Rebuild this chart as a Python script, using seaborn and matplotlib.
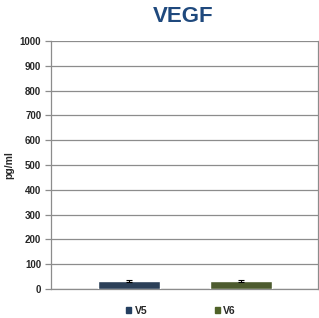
import matplotlib
matplotlib.use("Agg")
import matplotlib.pyplot as plt
import matplotlib.font_manager as fm
import seaborn as sns
import pandas as pd
from matplotlib.patches import Patch

categories = ["V5", "V6"]
values = [32, 32]
errors = [4, 4]
colors = ["#243F60", "#4F6228"]
yticks = [0, 100, 200, 300, 400, 500, 600, 700, 800, 900, 1000]

sns.set_style("white")
plt.rcParams['font.family'] = ['Liberation Sans', 'DejaVu Sans']

bold_path = None
for f in fm.findSystemFonts():
    if f.endswith("LiberationSans-Bold.ttf"):
        bold_path = f
        break
if bold_path:
    fm.fontManager.addfont(bold_path)
    def bp(size):
        return fm.FontProperties(fname=bold_path, size=size)
else:
    def bp(size):
        return fm.FontProperties(family="DejaVu Sans", weight="bold", size=size)

df = pd.DataFrame({"visit": categories, "value": values})

fig = plt.figure(figsize=(3.19, 3.18), dpi=100)
ax = fig.add_axes([51/319, 1-289/318, (318-51)/319, (289-41)/318])

sns.barplot(data=df, x="visit", y="value", hue="visit", palette=colors,
            errorbar=None, width=0.55, legend=False, ax=ax, zorder=3)
ax.errorbar(range(len(categories)), values, yerr=errors, fmt="none",
            ecolor="black", elinewidth=0.8, capsize=2, capthick=0.8, zorder=4)

ax.set_xlim(-0.696, 1.69)
ax.set_ylim(0, 1000)
ax.set_yticks(yticks)
ax.set_yticklabels([str(t) for t in yticks], fontproperties=bp(7))
ax.set_xticks([])
ax.set_xlabel("")
ax.set_ylabel("pg/ml", fontproperties=bp(7.5))
ax.yaxis.set_label_coords((14-51)/267, 0.5)
ax.yaxis.grid(True, color="#8c8c8c", linewidth=0.9, zorder=0)
ax.set_axisbelow(True)
ax.tick_params(axis="y", direction="out", length=4, color="#8c8c8c", width=0.9, pad=3, left=True)
for s in ["left", "bottom", "right"]:
    ax.spines[s].set_visible(True)
    ax.spines[s].set_color("#8c8c8c")
    ax.spines[s].set_linewidth(0.9)
ax.spines["top"].set_visible(False)

fig.text(183.5/319, 1-17/318, "VEGF", ha="center", va="center",
         fontproperties=bp(16), color="#1F497D")

handles = [Patch(facecolor=c, edgecolor=c, label=l) for c, l in zip(colors, categories)]
fig.legend(handles=handles, loc="center", bbox_to_anchor=(181/319, 1-310.5/318), ncol=2,
           frameon=False, prop=bp(7.5), handlelength=0.5,
           handleheight=0.5, handletextpad=0.3, columnspacing=6.5,
           borderpad=0, borderaxespad=0)

fig.savefig("out.png", dpi=100)
